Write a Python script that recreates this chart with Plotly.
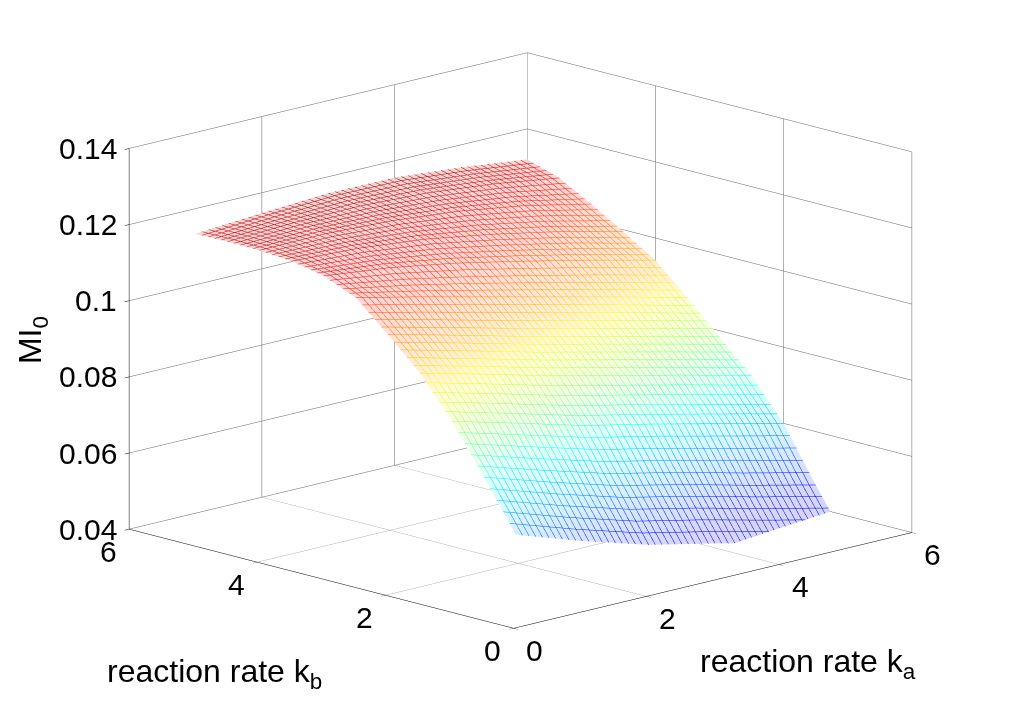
import math
import plotly.graph_objects as go

ka = [1, 2, 3, 4, 5, 6]
kb = [1, 1.5, 2, 2.5, 3, 3.5, 4, 4.5, 5, 5.5, 6]

# MI_0 values, one row per kb value, columns follow ka
mi_kb_1_0 = [0.0560, 0.0502, 0.0450, 0.0412, 0.0370, 0.0330]
mi_kb_1_5 = [0.0690, 0.0635, 0.0584, 0.0545, 0.0501, 0.0460]
mi_kb_2_0 = [0.0815, 0.0768, 0.0720, 0.0682, 0.0641, 0.0600]
mi_kb_2_5 = [0.0920, 0.0875, 0.0829, 0.0788, 0.0747, 0.0704]
mi_kb_3_0 = [0.1000, 0.0956, 0.0911, 0.0869, 0.0827, 0.0785]
mi_kb_3_5 = [0.1075, 0.1035, 0.0993, 0.0951, 0.0909, 0.0865]
mi_kb_4_0 = [0.1110, 0.1090, 0.1060, 0.1023, 0.0984, 0.0942]
mi_kb_4_5 = [0.1127, 0.1119, 0.1101, 0.1072, 0.1037, 0.0995]
mi_kb_5_0 = [0.1134, 0.1136, 0.1128, 0.1111, 0.1084, 0.1046]
mi_kb_5_5 = [0.1135, 0.1143, 0.1145, 0.1137, 0.1119, 0.1093]
mi_kb_6_0 = [0.1134, 0.1147, 0.1157, 0.1156, 0.1141, 0.1120]

mi = [mi_kb_1_0, mi_kb_1_5, mi_kb_2_0, mi_kb_2_5, mi_kb_3_0, mi_kb_3_5,
      mi_kb_4_0, mi_kb_4_5, mi_kb_5_0, mi_kb_5_5, mi_kb_6_0]

ka_ticks = [0, 2, 4, 6]
kb_ticks = [0, 2, 4, 6]
z_ticks = [0.04, 0.06, 0.08, 0.10, 0.12, 0.14]
z_ticktext = ["0.04", "0.06", "0.08", "0.1", "0.12", "0.14"]
z_range = [0.04, 0.14]

# MATLAB jet stops (fraction of the data colour range, rgb)
jet_stops = [(0.0, (0, 0, 143)), (0.125, (0, 0, 255)), (0.375, (0, 255, 255)),
             (0.625, (255, 255, 0)), (0.875, (255, 0, 0)), (1.0, (128, 0, 0))]

zmin_c = min(min(r) for r in mi)
zmax_c = max(max(r) for r in mi)


def rgb(c):
    return "rgb(%d,%d,%d)" % tuple(c)


def jet_at(f):
    for (f0, c0), (f1, c1) in zip(jet_stops[:-1], jet_stops[1:]):
        if f0 <= f <= f1:
            t = (f - f0) / (f1 - f0)
            return tuple(round(a + (b - a) * t) for a, b in zip(c0, c1))
    return jet_stops[-1][1] if f > 1 else jet_stops[0][1]


# contour lines are coloured against the z-axis range, so re-express the
# data-range jet map on that range
cs_lines = []
f0 = (z_range[0] - zmin_c) / (zmax_c - zmin_c)
cs_lines.append([0.0, rgb(jet_at(max(f0, 0)))])
for f, c in jet_stops:
    z = zmin_c + f * (zmax_c - zmin_c)
    p = (z - z_range[0]) / (z_range[1] - z_range[0])
    if 0 < p < 1:
        cs_lines.append([p, rgb(c)])
cs_lines.append([1.0, rgb(jet_stops[-1][1])])

# very faint tint of the same map for the faces (the dense mesh reads as colour)
TINT = 0.16
cs_faces = [[f, rgb([round(255 - (255 - ch) * TINT) for ch in c])] for f, c in jet_stops]

FONT = "Liberation Sans, Arial, Helvetica, sans-serif"
TICK_FONT = dict(family=FONT, size=30, color="black")
TITLE_FONT = dict(family=FONT, size=32, color="black")

fig = go.Figure()

# faces (hidden-line removal like a MATLAB mesh)
fig.add_trace(go.Surface(
    x=ka, y=kb, z=mi,
    colorscale=cs_faces, cmin=zmin_c, cmax=zmax_c, showscale=False,
    lighting=dict(ambient=1, diffuse=0, specular=0, roughness=1, fresnel=0),
    hoverinfo="skip",
))

# coloured mesh lines
fig.add_trace(go.Surface(
    x=ka, y=kb, z=mi,
    colorscale=cs_lines, cmin=z_range[0], cmax=z_range[1], showscale=False,
    hidesurface=True, hoverinfo="skip",
    contours=dict(
        x=dict(show=True, start=1, end=6.001, size=0.1, usecolormap=True,
               width=2, highlight=False),
        y=dict(show=True, start=1, end=6.001, size=0.1, usecolormap=True,
               width=2, highlight=False),
        z=dict(show=False, highlight=False),
    ),
))

axis_common = dict(
    showbackground=False, showgrid=True, gridcolor="rgb(100,100,100)", gridwidth=1,
    zeroline=False, showline=True, linecolor="black", linewidth=1,
    ticks="outside", ticklen=6, tickcolor="black", showspikes=False,
    showticklabels=False, title=dict(text=""),
)

# tick labels placed at the axis data positions
scene_ann = []
for v in ka_ticks:
    scene_ann.append(dict(x=v, y=0, z=z_ticks[0], text=str(v), showarrow=False,
                          xanchor="center", yanchor="middle", xshift=21, yshift=-22,
                          font=TICK_FONT))
for v in kb_ticks:
    scene_ann.append(dict(x=0, y=v, z=z_ticks[0], text=str(v), showarrow=False,
                          xanchor="center", yanchor="middle", xshift=-21, yshift=-22,
                          font=TICK_FONT))
for v, t in zip(z_ticks, z_ticktext):
    scene_ann.append(dict(x=0, y=6, z=v, text=t, showarrow=False,
                          xanchor="right", yanchor="middle", xshift=-10, yshift=0,
                          font=TICK_FONT))

s = 1.13
k = 1.665
az = math.radians(44.0)
fig.update_layout(
    width=1010, height=706,
    margin=dict(l=0, r=0, t=0, b=0),
    paper_bgcolor="white",
    showlegend=False,
    scene=dict(
        domain=dict(x=[0.015, 1.0], y=[0.058, 1.0]),
        xaxis=dict(axis_common, range=[0, 6], tickvals=ka_ticks),
        yaxis=dict(axis_common, range=[0, 6], tickvals=kb_ticks),
        zaxis=dict(axis_common, range=z_range, tickvals=z_ticks),
        aspectmode="manual", aspectratio=dict(x=1 * k, y=1 * k, z=0.71 * k),
        camera=dict(
            projection=dict(type="orthographic"),
            eye=dict(x=-math.sin(az) * s, y=-math.cos(az) * s, z=0.257 * s),
            up=dict(x=0, y=0, z=1),
            center=dict(x=0, y=0, z=0),
        ),
        annotations=scene_ann,
    ),
    annotations=[
        dict(text="reaction rate k<sub>b</sub>", xref="paper", yref="paper",
             x=0.096, y=0.058, xanchor="left", yanchor="middle", showarrow=False,
             font=TITLE_FONT),
        dict(text="reaction rate k<sub>a</sub>", xref="paper", yref="paper",
             x=0.683, y=0.072, xanchor="left", yanchor="middle", showarrow=False,
             font=TITLE_FONT),
        dict(text="MI<sub>0</sub>", xref="paper", yref="paper",
             x=0.025, y=0.53, xanchor="center", yanchor="middle", showarrow=False,
             textangle=-90, font=TITLE_FONT),
    ],
)

fig.write_html("out.html")
